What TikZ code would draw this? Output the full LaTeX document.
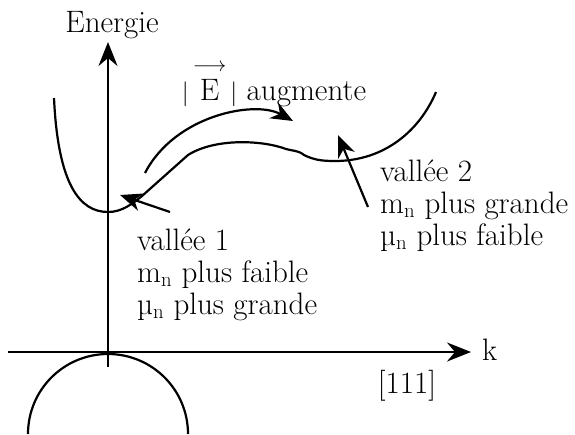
\documentclass[tikz,border=0pt]{standalone}
\usepackage{amsmath}
\usetikzlibrary{arrows.meta}

\begin{document}
\begin{tikzpicture}[
  x=1pt, y=-1pt,
  every node/.style={font=\fontsize{31}{32}\selectfont},
  curve/.style={line width=2.2pt},
  axis/.style={line width=2.2pt, -{Stealth[length=24pt,width=19pt,inset=8pt]}},
  arrow/.style={line width=2.2pt, -{Stealth[length=22pt,width=18pt,inset=7pt]}},
  label/.style={align=left, anchor=north west, inner sep=0pt}
]
\useasboundingbox (0,0) rectangle (575,434);

% axes
\coordinate (origin) at (108,352);
\coordinate (ybot) at (108,367);
\coordinate (xleft) at (8,352);
\node (energy) at (112,25) {Energie};
\node[anchor=west, inner sep=0pt] (k) at (482,350) {k};
\node (dir) at (407,386) {[111]};
\draw[axis] (ybot) -- (108,42);
\draw[axis] (xleft) -- (xleft -| 471,0);

% bande de valence
\draw[curve] (28,434) arc[start angle=180, end angle=360, radius=80];

% bande de conduction
\draw[curve] (54,98) .. controls (58,185) and (80,212) .. (108,212)
  .. controls (122,212) and (132,204) .. (142,196) -- (188,155)
  .. controls (215,138) and (262,140) .. (286,149)
  .. controls (292,151) and (298,150) .. (304,155)
  .. controls (314,160) and (322,161) .. (335,161)
  .. controls (385,161) and (420,130) .. (436,92);

% transfert
\node (field) at (274,84) {$|\,\overset{\raisebox{3pt}{$\scriptstyle\longrightarrow$}}{\text{E}}\,|$ augmente};
\coordinate (jumpstart) at (145,173);
\coordinate (jumpend) at (293,121);
\draw[arrow] (jumpstart) .. controls (175,115) and (255,100) .. (jumpend);

% vallees
\node[label] (valley2) at (380,160) {vall\'ee 2\\m$_\mathrm{n}$ plus grande\\\textmu$_\mathrm{n}$ plus faible};
\node[label] (valley1) at (137,229) {vall\'ee 1\\m$_\mathrm{n}$ plus faible\\\textmu$_\mathrm{n}$ plus grande};
\coordinate (min1) at (120,195);
\coordinate (min2) at (338,135);
\draw[arrow] (170,212) coordinate (tail1) -- (min1);
\draw[arrow] (368,207) coordinate (tail2) -- (min2);
\end{tikzpicture}
\end{document}
